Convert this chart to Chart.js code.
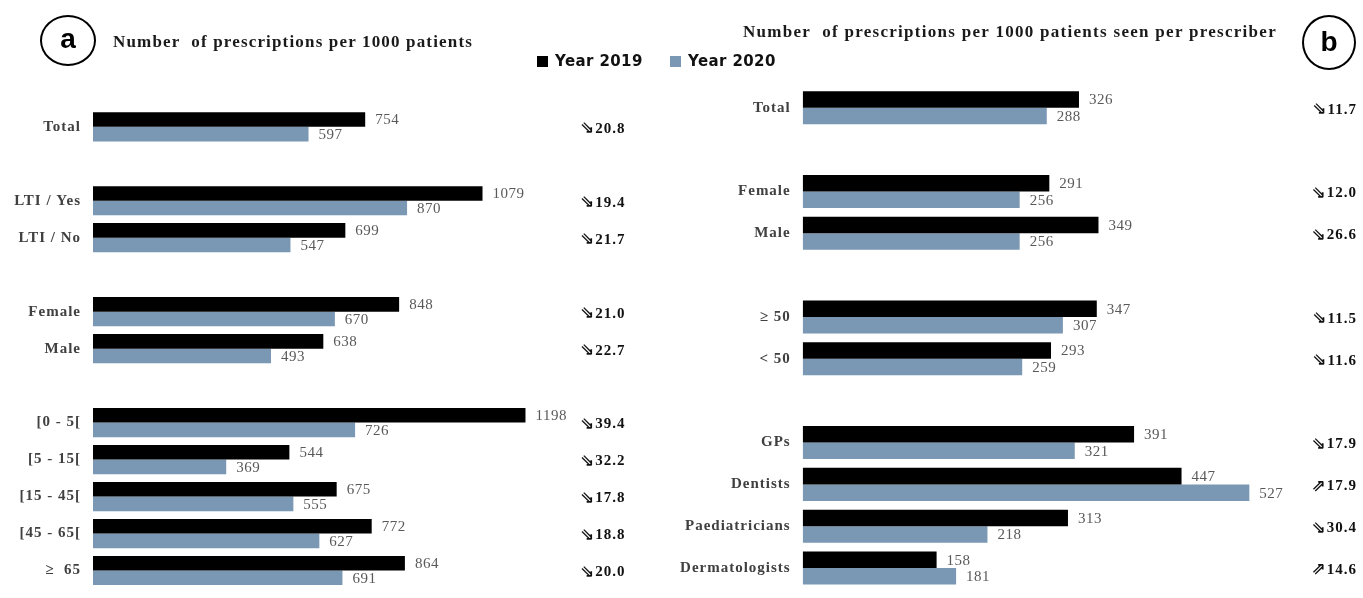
<!DOCTYPE html>
<html><head><meta charset="utf-8">
<script src="https://cdn.jsdelivr.net/npm/chart.js@4.4.1/dist/chart.umd.min.js"></script>
<style>
html,body{margin:0;padding:0;background:#fff;overflow:hidden;width:1363px;height:598px;}
#wrap{position:relative;width:1363px;height:598px;overflow:hidden;background:#fff;}
canvas{position:absolute;top:0;}
.circ{position:absolute;border:2px solid #000;border-radius:50%;box-sizing:border-box;font:bold 28px 'Liberation Sans',Arial,sans-serif;display:flex;align-items:center;justify-content:center;color:#000;line-height:1;}
.title{position:absolute;font:bold 17px 'Liberation Serif','Times New Roman',serif;color:#1a1a1a;white-space:nowrap;line-height:18px;}
.leg{position:absolute;font:bold 15px 'DejaVu Sans',sans-serif;color:#111;white-space:nowrap;line-height:16px;letter-spacing:0.4px;}
.sw{position:absolute;width:11px;height:11px;}
</style>
</head><body>
<div id="wrap">
  <canvas id="ca" width="660" height="610" style="left:0px"></canvas>
  <canvas id="cb" width="703" height="610" style="left:660px"></canvas>
  <div class="circ" style="left:40px;top:15px;width:56px;height:51px;padding-bottom:3px;">a</div>
  <div class="circ" style="left:1302px;top:15px;width:54px;height:55px;padding-bottom:2px;">b</div>
  <div class="title" id="ta" style="left:113px;top:33px;">Number&nbsp; of prescriptions per 1000 patients</div>
  <div class="title" id="tb" style="left:743px;top:23px;">Number&nbsp; of prescriptions per 1000 patients seen per prescriber</div>
  <div class="sw" style="left:537px;top:56px;background:#000;"></div>
  <div class="leg" id="l1" style="left:555px;top:53px;"></div>
  <div class="sw" style="left:670px;top:56px;background:#7a97b3;"></div>
  <div class="leg" id="l2" style="left:688px;top:53px;"></div>
</div>
<script>
// ---- data ----
const seriesNames = ['Year 2019', 'Year 2020'];
const seriesColors = ['#000000', '#7a97b3'];

const catsA = ['Total', '', 'LTI / Yes', 'LTI / No', '', 'Female', 'Male', '', '[0 - 5[', '[5 - 15[', '[15 - 45[', '[45 - 65[', '\u2265  65'];
const y2019A = [754, null, 1079, 699, null, 848, 638, null, 1198, 544, 675, 772, 864];
const y2020A = [597, null, 870, 547, null, 670, 493, null, 726, 369, 555, 627, 691];
const changeA = [20.8, null, 19.4, 21.7, null, 21.0, 22.7, null, 39.4, 32.2, 17.8, 18.8, 20.0];
const trendA = ['down', null, 'down', 'down', null, 'down', 'down', null, 'down', 'down', 'down', 'down', 'down'];

const catsB = ['Total', '', 'Female', 'Male', '', '\u2265 50', '< 50', '', 'GPs', 'Dentists', 'Paediatricians', 'Dermatologists'];
const y2019B = [326, null, 291, 349, null, 347, 293, null, 391, 447, 313, 158];
const y2020B = [288, null, 256, 256, null, 307, 259, null, 321, 527, 218, 181];
const changeB = [11.7, null, 12.0, 26.6, null, 11.5, 11.6, null, 17.9, 17.9, 30.4, 14.6];
const trendB = ['down', null, 'down', 'down', null, 'down', 'down', null, 'down', 'up', 'down', 'up'];

document.getElementById('l1').textContent = seriesNames[0];
document.getElementById('l2').textContent = seriesNames[1];

// fit titles width
function fit(id, target){
  const el = document.getElementById(id);
  const w = el.getBoundingClientRect().width;
  const n = el.textContent.length;
  el.style.letterSpacing = ((target - w) / n) + 'px';
}
fit('ta', 360); fit('tb', 534);

const ARROW_FONT = "bold 17px 'DejaVu Sans', sans-serif";
const PCT_FONT = "bold 15px 'Liberation Serif', serif";

const lblPlugin = {
  id: 'lbl',
  beforeDraw(chart){ chart.ctx.letterSpacing = '1px'; },
  beforeDatasetsDraw(chart){ chart.ctx.letterSpacing = '0px'; },
  afterDatasetsDraw(chart, args, opts){
    const ctx = chart.ctx;
    ctx.save();
    ctx.letterSpacing = '0.5px';
    ctx.font = "15px 'Liberation Serif', serif";
    ctx.fillStyle = '#595959';
    ctx.textAlign = 'left';
    ctx.textBaseline = 'middle';
    chart.data.datasets.forEach((ds, i) => {
      const meta = chart.getDatasetMeta(i);
      meta.data.forEach((bar, j) => {
        if (ds.data[j] == null) return;
        ctx.fillText(String(ds.data[j]), bar.x + 10, bar.y + 1);
      });
    });
    ctx.fillStyle = '#111';
    ctx.textAlign = 'left';
    const ys = chart.scales.y;
    opts.changes.forEach((v, j) => {
      if (v == null) return;
      const arrow = opts.trends[j] === 'up' ? '\u21D7' : '\u21D8';
      const num = v.toFixed(1);
      const y = ys.getPixelForValue(j) + 2;
      ctx.letterSpacing = '0px';
      ctx.font = ARROW_FONT;
      const aw = ctx.measureText(arrow).width;
      ctx.letterSpacing = '1px';
      ctx.font = PCT_FONT;
      const nw = ctx.measureText(num).width;
      let x0 = opts.align === 'right' ? opts.x - nw - aw - 1 : opts.x;
      ctx.letterSpacing = '0px';
      ctx.font = ARROW_FONT;
      ctx.fillText(arrow, x0, y);
      ctx.letterSpacing = '1px';
      ctx.font = PCT_FONT;
      ctx.fillText(num, x0 + aw + 1, y);
    });
    ctx.restore();
  }
};

function make(id, cats, d1, d2, xMax, yW, pad, changes, trends, px, align){
  return new Chart(document.getElementById(id), {
    type: 'bar',
    data: {
      labels: cats,
      datasets: [
        {label: seriesNames[0], data: d1, backgroundColor: seriesColors[0], borderWidth: 0},
        {label: seriesNames[1], data: d2, backgroundColor: seriesColors[1], borderWidth: 0}
      ]
    },
    options: {
      responsive: false,
      animation: false,
      indexAxis: 'y',
      layout: {padding: pad},
      datasets: {bar: {categoryPercentage: 0.79, barPercentage: 1}},
      plugins: {
        legend: {display: false},
        tooltip: {enabled: false},
        lbl: {changes: changes, trends: trends, x: px, align: align}
      },
      scales: {
        x: {display: false, min: 0, max: xMax},
        y: {
          grid: {display: false, drawTicks: false},
          border: {display: false},
          ticks: {autoSkip: false, padding: 12, color: '#404040',
                  font: {family: "'Liberation Serif', serif", size: 15, weight: 'bold'}},
          afterFit(s){ s.width = yW; }
        }
      }
    },
    plugins: [lblPlugin]
  });
}

make('ca', catsA, y2019A, y2020A, 1500, 93, {top: 108.3, bottom: 6.7, left: 0, right: 25.5}, changeA, trendA, 580, 'left');
make('cb', catsB, y2019B, y2020B, 600, 142.7, {top: 86.8, bottom: 6, left: 0, right: 51.8}, changeB, trendB, 697, 'right');
</script>
</body></html>
